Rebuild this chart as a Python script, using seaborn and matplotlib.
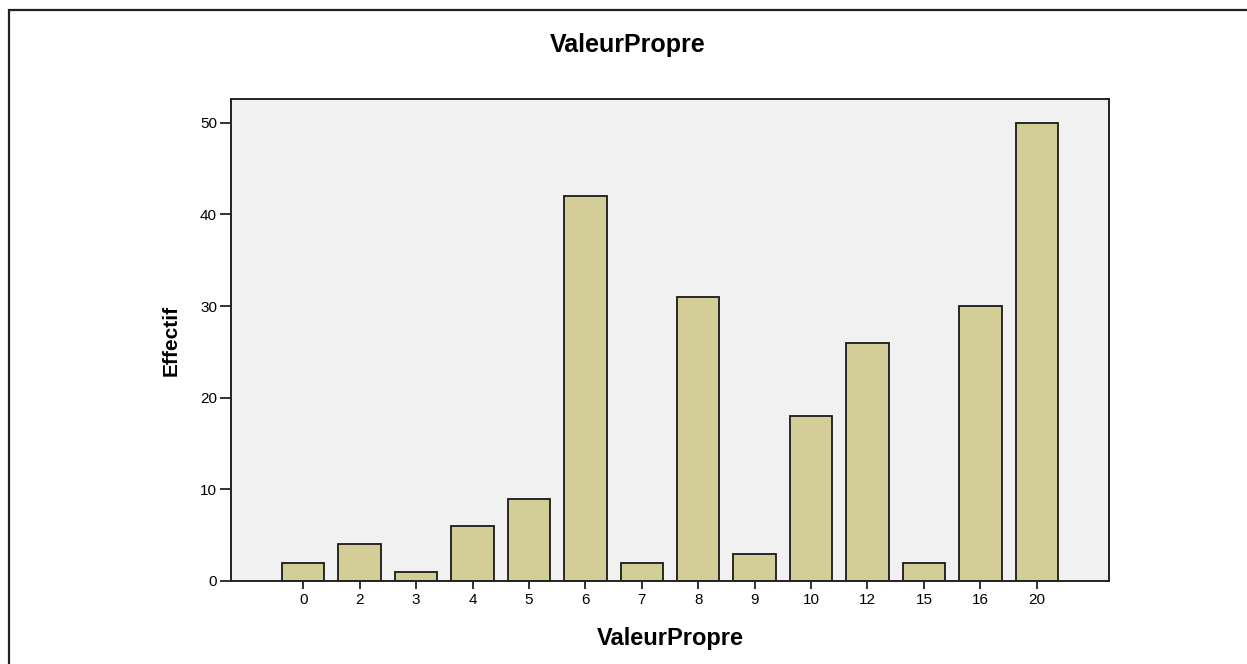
import numpy as np
import pandas as pd
import seaborn as sns
import matplotlib
matplotlib.use('Agg')
import matplotlib.pyplot as plt
from matplotlib.patches import Rectangle

categories = ['0', '2', '3', '4', '5', '6', '7', '8', '9', '10', '12', '15', '16', '20']
effectif = [2, 4, 1, 6, 9, 42, 2, 31, 3, 18, 26, 2, 30, 50]
yticks = [0, 10, 20, 30, 40, 50]

sns.set_style('white')
plt.rcParams['font.family'] = ['Liberation Sans', 'DejaVu Sans']
plt.rcParams['text.color'] = 'black'
plt.rcParams['axes.labelcolor'] = 'black'
plt.rcParams['xtick.color'] = 'black'
plt.rcParams['ytick.color'] = 'black'

df = pd.DataFrame({'ValeurPropre': categories, 'Effectif': effectif})

fig = plt.figure(figsize=(12.47, 6.64), dpi=100)
ax = fig.add_axes([231 / 1247, 83 / 664, 878 / 1247, 482 / 664])

sns.barplot(data=df, x='ValeurPropre', y='Effectif', order=categories,
            color='#D3CE97', saturation=1, edgecolor='#1a1a1a', linewidth=1.3,
            width=0.75, ax=ax)

ax.set_facecolor('#F0F1F0')
ax.set_xlim(-1.28, 14.28)
ax.set_ylim(0, 52.6)
ax.set_yticks(yticks)
ax.set_yticklabels([str(t) for t in yticks])

for s in ax.spines.values():
    s.set_visible(True)
    s.set_color('#222222')
    s.set_linewidth(1.4)

ax.tick_params(axis='y', length=8, width=1.3, color='#222222', pad=2, labelsize=11, left=True)
ax.tick_params(axis='x', length=6, width=1.3, color='#222222', pad=3, labelsize=11, bottom=True)

ax.set_xlabel('ValeurPropre', fontsize=17, fontweight='bold', labelpad=14)
ax.set_ylabel('Effectif', fontsize=15, fontweight='bold', labelpad=14)

fig.text(628 / 1247, 1 - 45 / 664, 'ValeurPropre', ha='center', va='center',
         fontsize=18, fontweight='bold')

# cadre autour de la figure
fig.patches.append(Rectangle((9 / 1247, -0.1), 1.2, 1.1 - 10 / 664,
                             transform=fig.transFigure, fill=False,
                             edgecolor='#222222', linewidth=1.6))

fig.savefig('out.png', dpi=100)
